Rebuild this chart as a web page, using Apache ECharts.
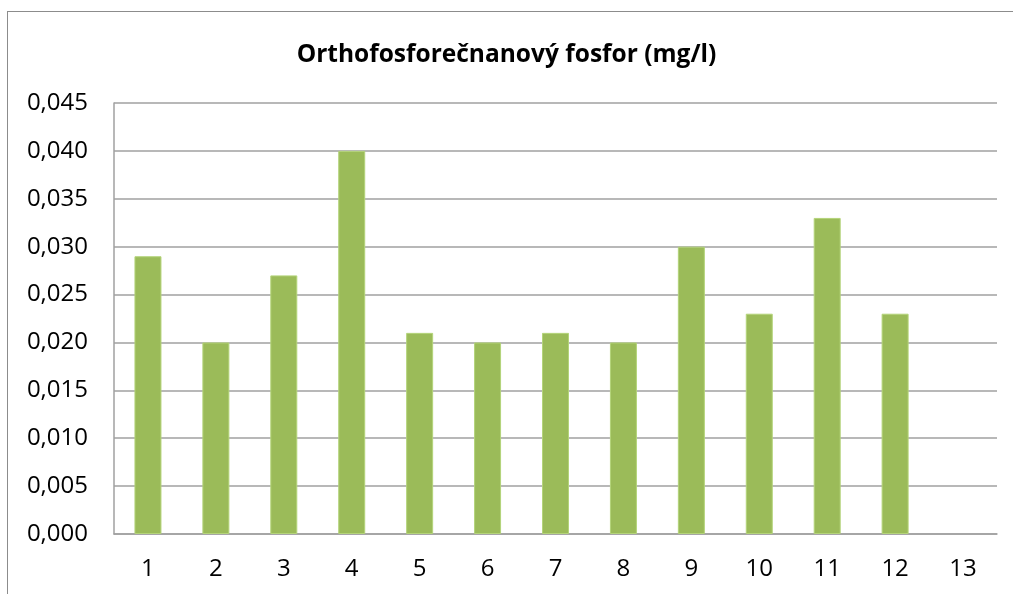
<!DOCTYPE html>
<html>
<head>
<meta charset="utf-8">
<script src="https://cdn.jsdelivr.net/npm/echarts@6/dist/echarts.min.js"></script>
<style>
  html, body { margin: 0; padding: 0; background: #fff; }
  #frame {
    position: absolute; left: 7px; top: 11px; width: 1020px; height: 600px;
    border: 1px solid #8c8c8c; box-sizing: border-box;
  }
  #chart { position: absolute; left: 0; top: 0; width: 1013px; height: 594px; }
</style>
</head>
<body>
<div id="frame"></div>
<div id="chart"></div>
<script>
var categories = ["1", "2", "3", "4", "5", "6", "7", "8", "9", "10", "11", "12", "13"];
var values = [0.029, 0.020, 0.027, 0.040, 0.021, 0.020, 0.021, 0.020, 0.030, 0.023, 0.033, 0.023, null];
var titleText = "Orthofosforečnanový fosfor (mg/l)";

var myChart = echarts.init(document.getElementById("chart"));
var myOption = {
  backgroundColor: "transparent",
  animation: false,
  title: {
    text: titleText,
    left: "center",
    top: 38,
    textStyle: { fontFamily: "Open Sans", fontWeight: "bold", fontSize: 24.5, color: "#000" }
  },
  grid: { left: 114, right: 16, top: 103, bottom: 60 },
  xAxis: {
    type: "category",
    data: categories,
    axisTick: { show: false },
    axisLine: { lineStyle: { color: "#a0a0a0", width: 1.5 } },
    axisLabel: { color: "#000", fontSize: 24, fontFamily: "Open Sans", margin: 23 }
  },
  yAxis: {
    type: "value",
    min: 0,
    max: 0.045,
    interval: 0.005,
    axisLine: { show: true, lineStyle: { color: "#a0a0a0", width: 1.5 } },
    axisTick: { show: false },
    splitLine: { lineStyle: { color: "#a0a0a0", width: 1.5 } },
    axisLabel: {
      color: "#000", fontSize: 24, fontFamily: "Open Sans", margin: 26,
      formatter: function (v) { return v.toFixed(3).replace(".", ","); }
    }
  },
  series: [{
    type: "bar",
    data: values,
    barWidth: 27,
    itemStyle: { color: "#9bbb59", borderColor: "#b4d47a", borderWidth: 1 }
  }]
};
myChart.setOption(myOption);
</script>
</body>
</html>
